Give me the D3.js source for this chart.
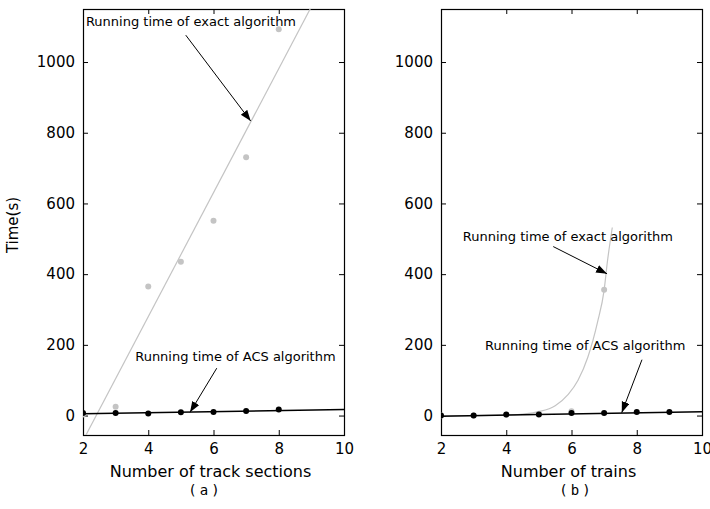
<!DOCTYPE html>
<html>
<head>
<meta charset="utf-8">
<script src="https://cdn.jsdelivr.net/npm/d3@7"></script>
<style>
  body { margin: 0; background: #fff; }
  svg { display: block; }
  .tick text { font-family: "DejaVu Sans", sans-serif; font-size: 15px; fill: #000; }
  .ann { font-family: "DejaVu Sans", sans-serif; font-size: 13px; fill: #000; }
</style>
</head>
<body>
<svg id="chart"></svg>
<script>
// axis ticks shared by both panels
const xTicks = [2, 4, 6, 8, 10];
const yTicks = [0, 200, 400, 600, 800, 1000];

// (a) running time vs number of track sections
const sectionsX = [2, 3, 4, 5, 6, 7, 8];
const exactTimeA = [3, 25, 365, 435, 551, 731, 1093];
const acsTimeA = [7, 7, 6, 9, 10, 13, 17];
const exactFitAX = [2, 10];
const exactFitAY = [-71, 1332];
const acsFitAX = [2, 10];
const acsFitAY = [5, 17];

// (b) running time vs number of trains
const trainsX = [2, 3, 4, 5, 6, 7, 8, 9];
const exactTimeB = [0, 0, 2, 5, 12, 356];
const acsTimeB = [0, 0, 3, 3, 7, 7, 10, 10];
const exactCurveBX = [2, 3, 4, 4.5, 5, 5.5, 5.9, 6.2, 6.5, 6.8, 7, 7.1, 7.25];
const exactCurveBY = [0, 0, 1, 4, 11, 28, 60, 100, 165, 265, 355, 435, 532];
const acsFitBX = [2, 10];
const acsFitBY = [-2, 11];

const width = 710, height = 509;
const svg = d3.select("#chart").attr("width", width).attr("height", height);

const defs = svg.append("defs");
defs.append("marker")
  .attr("id", "head")
  .attr("markerUnits", "userSpaceOnUse")
  .attr("markerWidth", 12).attr("markerHeight", 10)
  .attr("refX", 11).attr("refY", 4)
  .attr("orient", "auto")
  .append("path")
  .attr("d", "M0,0 L11,4 L0,8 Z")
  .attr("fill", "#000");

const zip = (xs, ys) => xs.map((x, i) => ({ x: x, y: ys[i] }));

const panels = [
  {
    id: "a", left: 83, right: 344,
    xLabel: "Number of track sections", caption: "(a)", captionShift: -10,
    yLabel: "Time(s)",
    exactPts: zip(sectionsX.slice(0, exactTimeA.length), exactTimeA),
    acsPts: zip(sectionsX, acsTimeA),
    exactLine: zip(exactFitAX, exactFitAY),
    acsLine: zip(acsFitAX, acsFitAY),
    notes: [
      { text: "Running time of exact algorithm", at: [2.09, 1102], from: [5.15, 1076], to: [7.14, 833] },
      { text: "Running time of ACS algorithm", at: [3.6, 155], from: [6.1, 134], to: [5.28, 9] }
    ]
  },
  {
    id: "b", left: 441, right: 702,
    xLabel: "Number of trains", caption: "(b)", captionShift: 3,
    exactPts: zip(trainsX.slice(0, exactTimeB.length), exactTimeB),
    acsPts: zip(trainsX, acsTimeB),
    exactLine: zip(exactCurveBX, exactCurveBY),
    acsLine: zip(acsFitBX, acsFitBY),
    notes: [
      { text: "Running time of exact algorithm", at: [2.67, 495], from: [5.44, 478], to: [7.09, 401] },
      { text: "Running time of ACS algorithm", at: [3.35, 186], from: [8.16, 158], to: [7.54, 8] }
    ]
  }
];

const plotTop = 9, plotBottom = 435;

panels.forEach(p => {
  const x = d3.scaleLinear().domain([2, 10]).range([p.left, p.right]);
  const y = d3.scaleLinear().domain([-55, 1150]).range([plotBottom, plotTop]);

  const g = svg.append("g").attr("id", "panel-" + p.id);

  defs.append("clipPath").attr("id", "clip-" + p.id)
    .append("rect")
    .attr("x", p.left).attr("y", plotTop)
    .attr("width", p.right - p.left).attr("height", plotBottom - plotTop);

  // axes with inward ticks
  g.append("g")
    .attr("transform", `translate(0,${plotBottom})`)
    .call(d3.axisBottom(x).tickValues(xTicks).tickSize(-5).tickSizeOuter(0).tickPadding(8).tickFormat(d3.format("d")));
  g.append("g")
    .attr("transform", `translate(0,${plotTop})`)
    .call(d3.axisTop(x).tickValues(xTicks).tickSize(-5).tickSizeOuter(0).tickFormat(""));
  g.append("g")
    .attr("transform", `translate(${p.left},0)`)
    .call(d3.axisLeft(y).tickValues(yTicks).tickSize(-5).tickSizeOuter(0).tickPadding(8).tickFormat(d3.format("d")));
  g.append("g")
    .attr("transform", `translate(${p.right},0)`)
    .call(d3.axisRight(y).tickValues(yTicks).tickSize(-5).tickSizeOuter(0).tickFormat(""));
  g.selectAll(".domain").remove();
  g.selectAll(".tick line").attr("stroke", "#000");

  g.append("rect")
    .attr("x", p.left + 0.5).attr("y", plotTop + 0.5)
    .attr("width", p.right - p.left).attr("height", plotBottom - plotTop)
    .attr("fill", "none").attr("stroke", "#000").attr("stroke-width", 1.2);

  const plot = g.append("g").attr("clip-path", `url(#clip-${p.id})`);
  const line = d3.line().x(d => x(d.x)).y(d => y(d.y)).curve(d3.curveMonotoneX);

  // exact algorithm (gray)
  plot.append("path")
    .datum(p.exactLine)
    .attr("d", line)
    .attr("fill", "none").attr("stroke", "#c4c4c4").attr("stroke-width", 1.2);
  plot.selectAll(".exact-dot")
    .data(p.exactPts)
    .enter().append("circle")
    .attr("class", "exact-dot")
    .attr("cx", d => x(d.x)).attr("cy", d => y(d.y))
    .attr("r", 3).attr("fill", "#c4c4c4");

  // ACS algorithm (black)
  plot.append("path")
    .datum(p.acsLine)
    .attr("d", line)
    .attr("fill", "none").attr("stroke", "#000").attr("stroke-width", 1.5);
  plot.selectAll(".acs-dot")
    .data(p.acsPts)
    .enter().append("circle")
    .attr("class", "acs-dot")
    .attr("cx", d => x(d.x)).attr("cy", d => y(d.y))
    .attr("r", 3).attr("fill", "#000");

  // annotations
  p.notes.forEach(n => {
    g.append("text")
      .attr("class", "ann")
      .attr("x", x(n.at[0])).attr("y", y(n.at[1]))
      .text(n.text);
    g.append("line")
      .attr("x1", x(n.from[0])).attr("y1", y(n.from[1]))
      .attr("x2", x(n.to[0])).attr("y2", y(n.to[1]))
      .attr("stroke", "#000").attr("stroke-width", 1)
      .attr("marker-end", "url(#head)");
  });

  const cx = (p.left + p.right) / 2;
  g.append("text")
    .attr("x", cx - 3).attr("y", 477)
    .attr("text-anchor", "middle")
    .style("font-family", "DejaVu Sans, sans-serif").style("font-size", "16px")
    .text(p.xLabel);

  g.append("text")
    .attr("x", cx + p.captionShift + 2).attr("y", 495)
    .attr("text-anchor", "middle")
    .style("font-family", "DejaVu Sans Mono, monospace").style("font-size", "14px")
    .style("letter-spacing", "3px")
    .text(p.caption);

  if (p.yLabel) {
    g.append("text")
      .attr("transform", `translate(13,225) rotate(-90)`)
      .attr("text-anchor", "middle")
      .attr("dy", "0.35em")
      .style("font-family", "DejaVu Sans, sans-serif").style("font-size", "15px")
      .text(p.yLabel);
  }
});
</script>
</body>
</html>
